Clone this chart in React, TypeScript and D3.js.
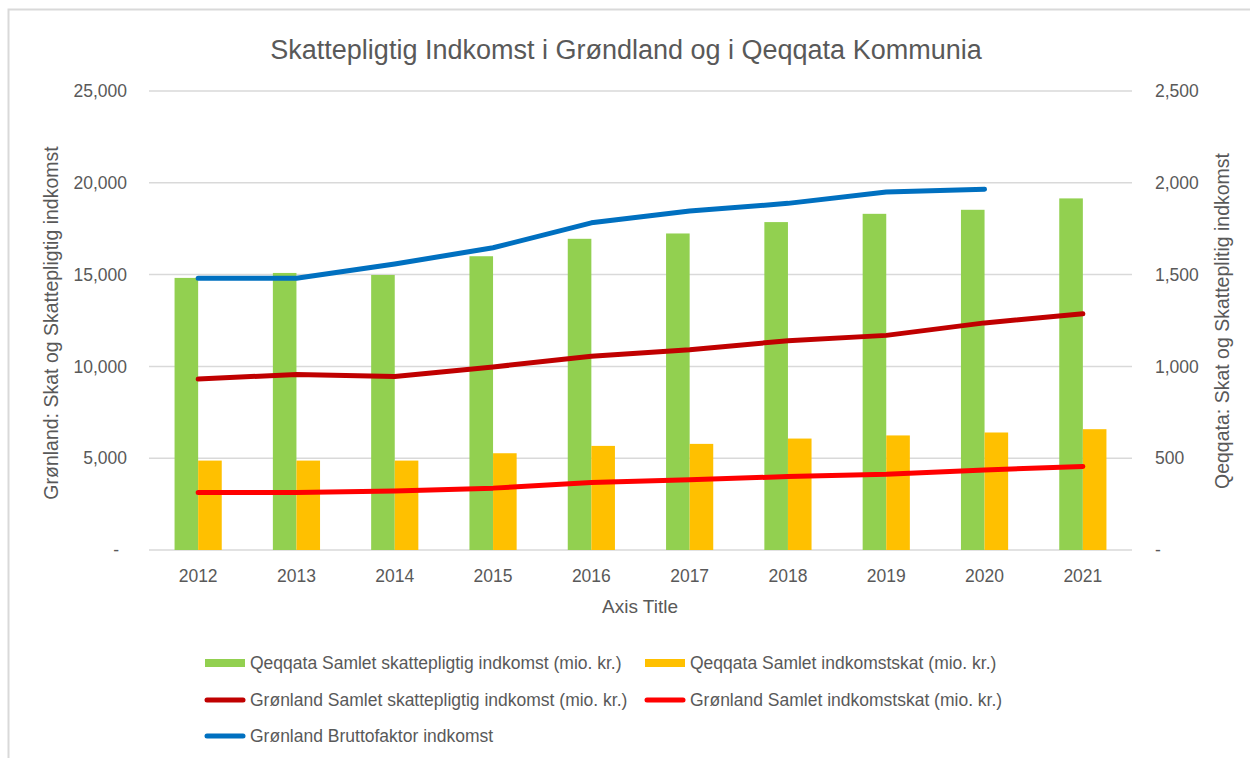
import React from 'react';
import * as d3 from 'd3';

// data
const years = ['2012', '2013', '2014', '2015', '2016', '2017', '2018', '2019', '2020', '2021'];
// Qeqqata (right axis, bars)
const qSkattepligtig = [1482, 1509, 1498, 1600, 1695, 1724, 1786, 1831, 1853, 1915];
const qIndkomstskat = [487, 487, 487, 527, 567, 578, 607, 624, 640, 658];
// Grønland (left axis, lines)
const gSkattepligtig = [9310, 9560, 9450, 9970, 10550, 10910, 11400, 11690, 12370, 12870];
const gIndkomstskat = [3130, 3130, 3220, 3370, 3670, 3820, 4000, 4120, 4360, 4550];
const gBrutto = [14800, 14800, 15580, 16460, 17820, 18460, 18880, 19500, 19650, null];

const leftTicks = [0, 5000, 10000, 15000, 20000, 25000];
const rightTicks = [0, 500, 1000, 1500, 2000, 2500];

const title = 'Skattepligtig Indkomst i Grøndland og i Qeqqata Kommunia';
const leftTitle = 'Grønland: Skat og Skattepligtig indkomst';
const rightTitle = 'Qeqqata: Skat og  Skatteplitig indkomst';
const xTitle = 'Axis Title';

const barSeries = [
  { name: 'Qeqqata Samlet skattepligtig indkomst (mio. kr.)', values: qSkattepligtig, color: '#92D050' },
  { name: 'Qeqqata Samlet indkomstskat (mio. kr.)', values: qIndkomstskat, color: '#FFC000' },
];
const lineSeries = [
  { name: 'Grønland Samlet skattepligtig indkomst (mio. kr.)', values: gSkattepligtig, color: '#C00000' },
  { name: 'Grønland Samlet indkomstskat (mio. kr.)', values: gIndkomstskat, color: '#FF0000' },
  { name: 'Grønland Bruttofaktor indkomst', values: gBrutto, color: '#0070C0' },
];

const W = 1250;
const H = 758;
const textColor = '#595959';
const gridColor = '#D9D9D9';
const font = '"Liberation Sans", Arial, sans-serif';

const fmt = (v: number) => (v === 0 ? '-' : d3.format(',')(v));

export default function App() {
  const left = 149;
  const right = 1132;
  const top = 91;
  const bottom = 550;

  const x = d3.scaleBand().domain(years).range([left, right]);
  const yL = d3.scaleLinear().domain([0, 25000]).range([bottom, top]);
  const yR = d3.scaleLinear().domain([0, 2500]).range([bottom, top]);

  const barW = x.bandwidth() * 0.24;
  const line = d3.line<number | null>()
    .defined(d => d != null)
    .x((d, i) => (x(years[i]) as number) + x.bandwidth() / 2)
    .y(d => yL(d as number));

  // legend layout
  const legend = [
    { s: barSeries[0], bar: true, lx: 205, ly: 663 },
    { s: barSeries[1], bar: true, lx: 645, ly: 663 },
    { s: lineSeries[0], bar: false, lx: 205, ly: 700 },
    { s: lineSeries[1], bar: false, lx: 645, ly: 700 },
    { s: lineSeries[2], bar: false, lx: 205, ly: 736 },
  ];

  return (
    <svg width={W} height={H} style={{ position: 'absolute', left: 0, top: 0, background: '#fff' }} fontFamily={font}>
      <rect x={8.5} y={9.5} width={W + 10} height={H + 10} fill="#fff" stroke={gridColor} strokeWidth={2} />

      <text x={626} y={59} textAnchor="middle" fontSize={27} fill={textColor}>{title}</text>

      {/* gridlines */}
      {leftTicks.map(t => (
        <line key={t} x1={left} x2={right} y1={yL(t)} y2={yL(t)} stroke={gridColor} strokeWidth={1.5} />
      ))}

      {/* left ticks */}
      {leftTicks.map(t => (
        <text key={'l' + t} x={t === 0 ? 119 : 127} y={yL(t)} dy="0.35em" textAnchor="end" fontSize={17.5} fill={textColor}>{fmt(t)}</text>
      ))}
      {/* right ticks */}
      {rightTicks.map(t => (
        <text key={'r' + t} x={1155} y={yR(t)} dy="0.35em" textAnchor="start" fontSize={17.5} fill={textColor}>{fmt(t)}</text>
      ))}

      {/* bars */}
      {barSeries.map((s, si) => (
        <g key={s.name}>
          {s.values.map((v, i) => {
            const cx = (x(years[i]) as number) + x.bandwidth() / 2;
            return (
              <rect key={i} x={cx - barW + si * barW} y={yR(v)} width={barW} height={bottom - yR(v)} fill={s.color} />
            );
          })}
        </g>
      ))}

      {/* lines */}
      {lineSeries.map(s => (
        <path key={s.name} d={line(s.values) || ''} fill="none" stroke={s.color} strokeWidth={5}
          strokeLinecap="round" strokeLinejoin="round" />
      ))}

      {/* x labels */}
      {years.map(yr => (
        <text key={yr} x={(x(yr) as number) + x.bandwidth() / 2} y={576} dy="0.35em" textAnchor="middle" fontSize={17.5} fill={textColor}>{yr}</text>
      ))}
      <text x={640} y={606} dy="0.35em" textAnchor="middle" fontSize={19} fill={textColor}>{xTitle}</text>

      <text transform={`translate(51,323) rotate(-90)`} textAnchor="middle" dy="0.35em" fontSize={19.5} fill={textColor}>{leftTitle}</text>
      <text transform={`translate(1222,321) rotate(-90)`} textAnchor="middle" dy="0.35em" fontSize={19.5} fill={textColor}>{rightTitle}</text>

      {/* legend */}
      {legend.map(l => (
        <g key={l.s.name}>
          {l.bar
            ? <rect x={l.lx} y={l.ly - 4} width={40} height={8} fill={l.s.color} />
            : <line x1={l.lx + 2} x2={l.lx + 38} y1={l.ly} y2={l.ly} stroke={l.s.color} strokeWidth={5} strokeLinecap="round" />}
          <text x={l.lx + 45} y={l.ly} dy="0.35em" fontSize={17.5} fill={textColor}>{l.s.name}</text>
        </g>
      ))}
    </svg>
  );
}
